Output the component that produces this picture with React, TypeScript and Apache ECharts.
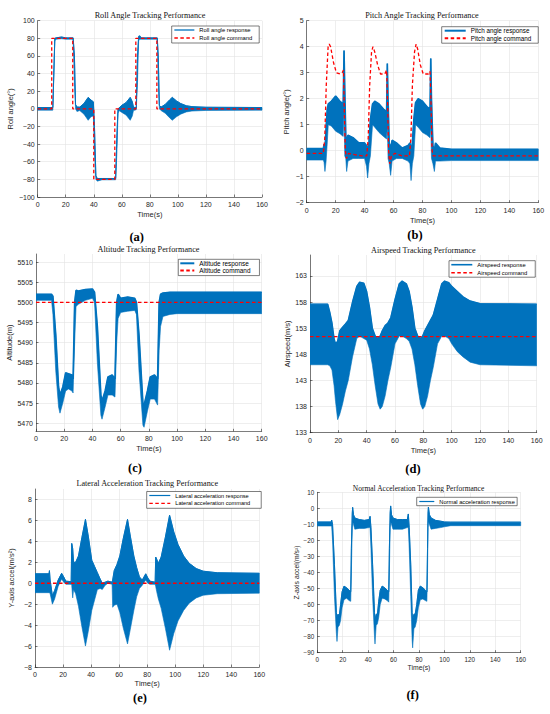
import React, { useEffect, useRef } from 'react';
import * as echarts from 'echarts';

const BLUE = '#0072BD';
const RED = '#FF0000';
const AXIS = '#262626';
const GRID = '#e3e3e3';
const SANS = '"Liberation Sans", Arial, sans-serif';
const SERIF = '"Liberation Serif", "Times New Roman", serif';

// ---------- shared ----------
const timeRange = [0, 160];

// ---------- (a) roll ----------
const rollTicks = [-100, -80, -60, -40, -20, 0, 20, 40, 60, 80, 100];
const rollCommand = [
  [0, 0], [10, 0], [10, 80], [25, 80], [25, 0], [40, 0], [40, -80], [55, -80],
  [55, 0], [70, 0], [70, 80], [85, 80], [85, 0], [160, 0],
];
// [time, lower envelope, upper envelope]
const rollBand = [
  [0, -1.5, 1.5], [10.8, -1.5, 1.5], [12.2, 77, 80], [13, 79, 80.5], [17, 79.5, 81.5],
  [20, 79, 80.5], [25.3, 79, 80.5], [26.2, 30, 60], [27, 0, 5], [28, -3, 2], [30, -2, 2],
  [33, -6, 6], [36, -13, 13], [38, -9, 10], [39.7, -8, 8], [40.5, -50, -20], [41.5, -80, -76],
  [42.5, -82, -79], [46, -80.5, -79], [55.6, -80.5, -79], [56.5, -50, -30], [57.3, -5, 0],
  [58, -2, 1], [60, -4, 4], [63, -7, 7], [66, -13, 13], [67.5, -8, 8], [68.3, -2, 2],
  [70.3, -1, 1], [71.2, 30, 60], [72, 77, 82], [72.6, 79, 83], [74, 79, 80.5], [85.3, 79, 80.5],
  [86, 30, 60], [86.8, 0, 4], [88, -2, 2], [91, -5, 5], [94, -10, 10], [96, -13, 13],
  [99, -9, 9], [102, -6, 6], [106, -3.5, 3.5], [110, -2.5, 2.5], [120, -1.8, 1.8], [160, -1.5, 1.5],
];

// ---------- (b) pitch ----------
const pitchTicks = [-2, -1, 0, 1, 2, 3, 4, 5];
const pitchCommand = [
  [0, -0.1], [11.5, -0.1], [12.5, 0.5], [13.5, 2.5], [14.8, 4.0], [15.6, 4.1], [16.5, 4.0],
  [18.5, 3.4], [20.5, 3.0], [23, 2.95], [24.5, 3.0], [25.4, 3.1], [26, 1.5], [26.7, 0.0],
  [27.5, -0.3], [29, -0.1], [33, -0.15], [38, -0.2], [41.5, -0.2], [42.5, 0.5], [43.5, 2.5],
  [44.8, 3.8], [45.8, 4.0], [47, 3.8], [49, 3.3], [51, 2.95], [54, 2.95], [55.2, 3.1],
  [55.8, 2.0], [56.6, 0.0], [57.4, -0.5], [58.5, -0.2], [61, -0.1], [66, -0.2], [71, -0.2],
  [72, 0.5], [73, 2.5], [74.5, 3.8], [75.6, 4.1], [76.7, 3.9], [78.5, 3.3], [80.5, 2.95],
  [84, 2.95], [85.2, 3.05], [85.8, 2.0], [86.6, 0.0], [87.4, -0.2], [95, -0.2], [160, -0.2],
];
const pitchBand = [
  [0, -0.36, 0.08], [11.5, -0.36, 0.08], [12, -0.45, 0.25], [12.6, -0.8, 0.0], [13.4, -0.4, 0.9],
  [14.2, 0.3, 1.6], [14.9, 1.0, 1.8], [17, 0.95, 1.9], [20, 0.75, 2.1], [23, 0.65, 1.9],
  [25.2, 0.55, 1.8], [25.8, 1.5, 3.85], [26.3, -0.2, 2.4], [27, -0.3, 0.6], [27.6, -0.8, 0.3],
  [28.5, -0.4, 0.6], [32, -0.3, 0.5], [36, -0.3, 0.3], [40, -0.3, 0.3], [41.3, -0.6, 0.2],
  [42.1, -1.05, 0.0], [43, -0.5, 0.3], [44, -0.2, 1.2], [45.5, 1.0, 1.8], [47, 0.9, 1.9],
  [50, 0.7, 1.8], [53, 0.55, 1.6], [55.2, 0.45, 1.5], [55.7, 1.0, 3.35], [56.2, -0.3, 2.0],
  [57, -0.5, 0.3], [58, -0.95, 0.1], [59, -0.4, 0.4], [62, -0.3, 0.3], [66, -0.3, 0.1],
  [70, -0.4, 0.2], [71.3, -0.5, 0.3], [72.1, -1.15, 0.0], [73, -0.5, 0.3], [74, -0.2, 1.2],
  [75.2, 1.0, 1.85], [77, 0.9, 2.0], [80, 0.7, 1.9], [83, 0.6, 1.7], [85.2, 0.5, 1.6],
  [85.7, 1.0, 3.55], [86.2, -0.3, 2.0], [87.2, -0.5, 0.2], [88.2, -0.8, 0.0], [89, -0.4, 0.3],
  [92, -0.4, 0.1], [100, -0.38, 0.05], [160, -0.38, 0.05],
];

// ---------- (c) altitude ----------
const altitudeTicks = [5470, 5475, 5480, 5485, 5490, 5495, 5500, 5505, 5510];
const altitudeCommand = [[0, 5500], [160, 5500]];
const altitudeBand = [
  [0, 5500.5, 5502], [11, 5500.5, 5502], [12, 5497, 5501.5], [14, 5483, 5492], [16, 5474, 5479],
  [17, 5472.5, 5477], [19, 5475, 5479], [21, 5478, 5482.5], [23, 5478.5, 5482.3],
  [25.5, 5478, 5482], [26.3, 5477.5, 5481], [27.4, 5490, 5500], [28.4, 5499, 5503],
  [30, 5499.5, 5502.8], [35, 5500.5, 5503.2], [40, 5501, 5503.3], [41.5, 5500, 5502.5],
  [43.5, 5485, 5494], [46, 5472, 5477], [46.8, 5471, 5475.5], [49, 5474, 5478],
  [51, 5477, 5481.5], [54, 5477, 5482], [56, 5476.5, 5481], [57.2, 5490, 5500],
  [58.2, 5496, 5502], [60, 5497.5, 5501], [65, 5497.8, 5501.3], [70, 5498, 5501],
  [71.2, 5497, 5500], [73, 5483, 5492], [75.8, 5469.5, 5475], [76.6, 5469, 5474.5],
  [79, 5473, 5478], [81, 5476, 5481.5], [84, 5476, 5482], [86.2, 5474.5, 5481],
  [87.3, 5488, 5500], [88.3, 5494, 5502], [90, 5496.5, 5502.3], [95, 5497, 5502.5],
  [100, 5497.2, 5502.5], [160, 5497.2, 5502.5],
];

// ---------- (d) airspeed ----------
const airspeedTicks = [133, 138, 143, 148, 153, 158, 163];
const airspeedCommand = [[0, 151.4], [160, 151.4]];
const airspeedBand = [
  [0, 146, 157.6], [12.5, 146, 157.6], [14, 145.8, 156], [15.5, 145, 154], [17, 142, 151],
  [18, 139, 150], [19.5, 135.5, 150.5], [21, 136.5, 152.5], [23, 138.5, 153.2], [25, 141, 153.8],
  [27, 143, 154.5], [30, 147.5, 158], [33, 151, 161], [35, 151.5, 161.8], [38, 151, 161.6],
  [40, 150.7, 160], [42, 149, 157], [44, 146, 153], [46, 142, 151.5], [48, 138.5, 151],
  [49.5, 137.5, 151.5], [51, 138, 152.5], [53, 140, 153.5], [55, 143, 154], [57, 145.5, 155],
  [60, 150, 158.5], [63, 151.5, 161.5], [65, 151.5, 162], [68, 151, 161.5], [70, 150.5, 160],
  [72, 149, 157], [74, 146, 153], [76, 142, 151.5], [78, 138.5, 151], [79.5, 137.5, 151.5],
  [81, 138, 152.5], [83, 140, 153.5], [85, 143, 154.5], [87, 145.5, 155.5], [90, 150, 158.5],
  [93, 151.5, 161.5], [95, 151.5, 162], [98, 151, 161.7], [100, 150, 161], [104, 148.5, 160],
  [108, 147.5, 159], [113, 146.5, 158.2], [120, 146, 157.7], [160, 145.8, 157.6],
];

// ---------- (e) lateral acceleration ----------
const lateralTicks = [-8, -6, -4, -2, 0, 2, 4, 6, 8];
const lateralCommand = [[0, 0], [160, 0]];
const lateralBand = [
  [0, -0.9, 0.9], [10, -0.9, 0.9], [10.3, -0.9, 1.2], [10.8, -1.0, 0.3], [12.4, -2.0, -1.2],
  [14, -1.5, -0.7], [16.5, -0.3, 0.3], [19, 0.4, 0.95], [20.5, 0.1, 0.6], [22, -0.1, 0.2],
  [25.8, -0.1, 0.15], [26.2, -0.2, 3.8], [26.9, -1.4, 3.3], [27.5, -0.6, 2.0], [29, -1.0, 2.0],
  [31, -2.2, 2.6], [33.5, -4.2, 4.4], [36, -6.0, 6.1], [38, -4.6, 4.5], [40.5, -2.6, 2.2],
  [42.5, -1.6, 1.6], [44.5, -0.6, 1.0], [46.5, -0.5, 0.4], [48, -0.6, 0.0], [50, -0.2, 0.1],
  [52, 0, 0.2], [55, -0.1, 0.1], [55.4, -2.3, 0.3], [56.5, -2.1, 1.2], [58.5, -2.0, 1.8],
  [60.5, -2.8, 2.6], [63, -4.3, 4.3], [66, -5.8, 6.1], [68, -4.4, 4.5], [70.5, -2.6, 2.6],
  [72.5, -1.3, 1.5], [74.5, -0.5, 0.6], [76.5, -0.2, 0.3], [79, 0.3, 0.9], [80.5, 0, 0.5],
  [82, -0.1, 0.2], [85.7, -0.1, 0.1], [86.1, -0.3, 2.5], [86.8, -0.8, 2.3], [88, -1.5, 1.9],
  [90, -2.4, 2.5], [93, -4.3, 4.4], [96, -6.4, 6.5], [99, -4.8, 4.9], [102, -3.6, 3.7],
  [106, -2.6, 2.6], [110, -1.9, 1.9], [115, -1.4, 1.4], [120, -1.15, 1.15], [130, -1.0, 1.0],
  [160, -0.95, 0.95],
];

// ---------- (f) normal acceleration ----------
const normalTicks = [-90, -80, -70, -60, -50, -40, -30, -20, -10, 0, 10];
const normalBand = [
  [0, -11, -8.5], [11, -11, -8.5], [11.3, -11, -7.3], [12, -20, -10], [13.5, -55, -35],
  [15, -78, -65], [15.5, -83, -68], [16.3, -74, -66], [17.3, -73, -67], [18.3, -70, -60],
  [19.5, -62, -52], [21, -57, -48.5], [23, -56, -49.5], [25, -57.5, -51], [26.3, -58, -52],
  [26.8, -40, -25], [27.5, -12, -3], [27.8, -8, 0.6], [28.5, -10, -4], [29.5, -13, -6],
  [33, -12.5, -7], [37, -12.5, -7.5], [40.8, -12, -7], [41.5, -12, -5], [42.2, -25, -12],
  [43.5, -55, -35], [45, -80, -65], [45.4, -84.6, -70], [46.3, -73, -66], [47.3, -72, -66],
  [48.3, -68, -58], [49.5, -60, -51], [51, -56, -48.5], [53, -56.5, -49.5], [55, -57.5, -51],
  [56.2, -58.5, -52], [56.7, -40, -25], [57.3, -12, -3], [57.7, -8, 1.5], [58.4, -10, -4],
  [59.5, -13, -6], [63, -13, -7], [67, -13, -7], [70.8, -12, -7], [71.6, -12, -3.5],
  [72.3, -25, -12], [73.5, -55, -35], [74.6, -82, -65], [75, -87, -70], [76, -75, -66],
  [77, -74, -66], [78.2, -70, -60], [79.5, -62, -51], [81, -57, -48.5], [83, -56.5, -49.5],
  [85, -57.5, -51], [86.2, -58, -52], [86.7, -40, -25], [87.1, -12, -3], [87.4, -8, 0.8],
  [88.2, -10, -4], [89.5, -13, -6], [93, -12.5, -7.5], [97, -12, -8], [100, -11.5, -8.5],
  [105, -10.8, -8.6], [160, -10.8, -8.6],
];

type Panel = {
  title: string; label: string; yName: string; yMin: number; yMax: number; yTicks: number[];
  band: number[][]; cmd: number[][] | null; resp: string; cmdName: string | null;
  L: any;
};

const panels: Panel[] = [
  {
    title: 'Roll Angle Tracking Performance', label: '(a)', yName: 'Roll angle(°)',
    yMin: -100, yMax: 100, yTicks: rollTicks, band: rollBand, cmd: rollCommand,
    resp: 'Roll angle response', cmdName: 'Roll angle command',
    L: {
      grid: { left: 37.7, top: 20.7, width: 224.3, height: 176.3 },
      titleX: 150, titleY: 15, titleSize: 8.2, labelX: 136.7, labelY: 236.5,
      yNameGap: 23, xNameGap: 13, tickSize: 7, nameSize: 7.5, respWidth: 1,
      legend: { left: 171.7, top: 26, fontSize: 5.8, itemWidth: 20, itemHeight: 7, itemGap: 2, padding: [1, 7, 2, 2], lineWidth: 1.3 },
    },
  },
  {
    title: 'Pitch Angle Tracking Performance', label: '(b)', yName: 'Pitch angle(°)',
    yMin: -2, yMax: 5, yTicks: pitchTicks, band: pitchBand, cmd: pitchCommand,
    resp: 'Pitch angle response', cmdName: 'Pitch angle command',
    L: {
      grid: { left: 306.7, top: 20.7, width: 231.6, height: 182 },
      titleX: 422, titleY: 15.3, titleSize: 8.2, labelX: 415, labelY: 234.5,
      yNameGap: 16, xNameGap: 13.5, tickSize: 7, nameSize: 7.5, respWidth: 1.6,
      legend: { left: 441.7, top: 26.7, fontSize: 6.3, itemWidth: 21, itemHeight: 6.5, itemGap: 1.5, padding: [1, 7, 2, 2], lineWidth: 2 },
    },
  },
  {
    title: 'Altitude Tracking Performance', label: '(c)', yName: 'Altitude(m)',
    yMin: 5468, yMax: 5512, yTicks: altitudeTicks, band: altitudeBand, cmd: altitudeCommand,
    resp: 'Altitude response', cmdName: 'Altitude command',
    L: {
      grid: { left: 36, top: 254, width: 225.7, height: 177.3 },
      titleX: 148.5, titleY: 249.3, titleSize: 8.2, labelX: 135, labelY: 468,
      yNameGap: 21, xNameGap: 13, tickSize: 7, nameSize: 7.5, respWidth: 1.6,
      legend: { left: 178.3, top: 259.3, fontSize: 6.4, itemWidth: 14, itemHeight: 7, itemGap: 1.3, padding: [1, 9, 2, 1], lineWidth: 2 },
    },
  },
  {
    title: 'Airspeed Tracking Performance', label: '(d)', yName: 'Airspeed(m/s)',
    yMin: 133, yMax: 167, yTicks: airspeedTicks, band: airspeedBand, cmd: airspeedCommand,
    resp: 'Airspeed response', cmdName: 'Airspeed command',
    L: {
      grid: { left: 310, top: 255, width: 226.7, height: 177.7 },
      titleX: 423.3, titleY: 250.7, titleSize: 8.2, labelX: 413, labelY: 469,
      yNameGap: 17.7, xNameGap: 13.5, tickSize: 7, nameSize: 7.5, respWidth: 1.4,
      legend: { left: 449, top: 260.7, fontSize: 5.8, itemWidth: 21, itemHeight: 7, itemGap: 2, padding: [1, 8, 1.5, 1.5], lineWidth: 1.6 },
    },
  },
  {
    title: 'Lateral Acceleration Tracking Performance', label: '(e)', yName: 'Y-axis accel(m/s²)',
    yMin: -8, yMax: 9, yTicks: lateralTicks, band: lateralBand, cmd: lateralCommand,
    resp: 'Lateral acceleration response', cmdName: 'Lateral acceleration command',
    L: {
      grid: { left: 35, top: 489, width: 224.3, height: 178 },
      titleX: 147.2, titleY: 483.3, titleSize: 8.2, labelX: 140, labelY: 698,
      yNameGap: 19.3, xNameGap: 12.5, tickSize: 7, nameSize: 7.5, respWidth: 1,
      legend: { left: 146.7, top: 491.5, fontSize: 5.6, itemWidth: 21, itemHeight: 6.5, itemGap: 1.8, padding: [1, 11, 2, 2], lineWidth: 1.2 },
    },
  },
  {
    title: 'Normal Acceleration Tracking Performance', label: '(f)', yName: 'Z-axis accel(m/s²)',
    yMin: -90, yMax: 10, yTicks: normalTicks, band: normalBand, cmd: null,
    resp: 'Normal acceleration response', cmdName: null,
    L: {
      grid: { left: 317.3, top: 492.3, width: 203.4, height: 160.4 },
      titleX: 418.5, titleY: 488.3, titleSize: 7.5, labelX: 412.7, labelY: 695,
      yNameGap: 14.3, xNameGap: 10.5, tickSize: 6.3, nameSize: 6.8, respWidth: 1,
      legend: { left: 416.7, top: 497.3, fontSize: 5.7, itemWidth: 15, itemHeight: 7, itemGap: 1, padding: [1.2, 2.3, 1.2, 2], lineWidth: 1.2 },
    },
  },
];

const minus = (v: number) => String(v).replace('-', '\u2212');

function bandRenderer(band: number[][]) {
  return (_params: any, api: any) => {
    const upper = band.map((r) => api.coord([r[0], r[2]]));
    const lower = band.slice().reverse().map((r) => api.coord([r[0], r[1]]));
    return {
      type: 'polygon',
      shape: { points: upper.concat(lower) },
      style: { fill: BLUE, stroke: BLUE, lineWidth: 0.6 },
    };
  };
}

function buildOption() {
  const axisLine = { show: true, onZero: false, lineStyle: { color: AXIS, width: 0.6 } };
  const axisTick = { show: true, inside: true, length: 2.5, lineStyle: { color: AXIS, width: 0.6 } };
  const splitLine = { show: true, lineStyle: { color: GRID, width: 0.6 } };

  const series: any[] = [];
  panels.forEach((p, i) => {
    series.push({
      type: 'custom', xAxisIndex: i, yAxisIndex: i, silent: true, z: 2, clip: true,
      renderItem: bandRenderer(p.band),
      data: [[p.band[0][0], p.band[0][1]]],
    });
    series.push({
      type: 'line', name: p.resp, xAxisIndex: i, yAxisIndex: i, silent: true, z: 3,
      symbol: 'none', data: p.band.map((r) => [r[0], r[2]]),
      lineStyle: { color: BLUE, width: p.L.respWidth }, itemStyle: { color: BLUE },
    });
    if (p.cmd) {
      series.push({
        type: 'line', name: p.cmdName, xAxisIndex: i, yAxisIndex: i, silent: true, z: 4,
        symbol: 'none', data: p.cmd,
        lineStyle: { color: RED, width: 1.3, type: [3.5, 2.5] }, itemStyle: { color: RED },
      });
    }
  });

  const graphic: any[] = [];
  panels.forEach((p) => {
    graphic.push({
      type: 'text', x: p.L.titleX, y: p.L.titleY, silent: true,
      style: { text: p.title, fontFamily: SERIF, fontSize: p.L.titleSize, fontWeight: 'normal', fill: '#111', align: 'center', verticalAlign: 'middle' },
    });
    graphic.push({
      type: 'text', x: p.L.labelX, y: p.L.labelY, silent: true,
      style: { text: p.label, fontFamily: SERIF, fontSize: 12.5, fontWeight: 'bold', fill: '#000', align: 'center', verticalAlign: 'middle' },
    });
  });

  return {
    animation: false,
    backgroundColor: '#fff',
    textStyle: { fontFamily: SANS },
    grid: panels.map((p) => ({ ...p.L.grid })),
    xAxis: panels.map((p, i) => ({
      gridIndex: i, type: 'value', min: timeRange[0], max: timeRange[1], interval: 20,
      name: 'Time(s)', nameLocation: 'middle', nameGap: p.L.xNameGap,
      nameTextStyle: { fontFamily: SANS, fontSize: p.L.nameSize, color: AXIS },
      axisLine, axisTick,
      axisLabel: { fontFamily: SANS, fontSize: p.L.tickSize, color: AXIS, margin: 4 },
      splitLine,
    })),
    yAxis: panels.map((p, i) => ({
      gridIndex: i, type: 'value', min: p.yMin, max: p.yMax,
      name: p.yName, nameLocation: 'middle', nameGap: p.L.yNameGap, nameRotate: 90,
      nameTextStyle: { fontFamily: SANS, fontSize: p.L.nameSize, color: AXIS },
      axisLine,
      axisTick: { ...axisTick, customValues: p.yTicks },
      axisLabel: { fontFamily: SANS, fontSize: p.L.tickSize, color: AXIS, margin: 3, customValues: p.yTicks, formatter: minus },
      splitLine,
    })),
    legend: panels.map((p) => ({
      show: true, orient: 'vertical', selectedMode: false,
      data: p.cmdName ? [p.resp, p.cmdName] : [p.resp],
      left: p.L.legend.left, top: p.L.legend.top,
      itemWidth: p.L.legend.itemWidth, itemHeight: p.L.legend.itemHeight, itemGap: p.L.legend.itemGap,
      padding: p.L.legend.padding,
      backgroundColor: '#fff', borderColor: AXIS, borderWidth: 0.6,
      itemStyle: { opacity: 0 },
      lineStyle: { width: p.L.legend.lineWidth },
      textStyle: { fontFamily: SANS, fontSize: p.L.legend.fontSize, color: '#000' },
      z: 10,
    })),
    graphic,
    series,
  };
}

export default function App() {
  const ref = useRef<HTMLDivElement>(null);
  useEffect(() => {
    if (!ref.current) return;
    const chart = echarts.init(ref.current, undefined, { renderer: 'svg' });
    chart.setOption(buildOption() as any);
    return () => chart.dispose();
  }, []);
  return (
    <div
      ref={ref}
      style={{ position: 'absolute', left: 0, top: 0, width: 550, height: 714, background: '#fff' }}
    />
  );
}
